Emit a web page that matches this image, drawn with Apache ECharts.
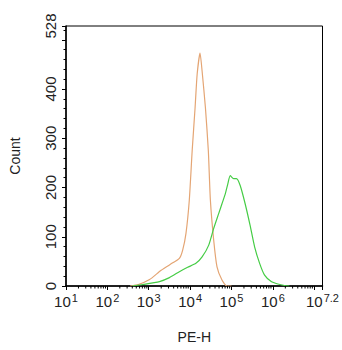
<!DOCTYPE html>
<html>
<head>
<meta charset="utf-8">
<script src="https://cdn.jsdelivr.net/npm/echarts@6/dist/echarts.min.js"></script>
<style>
    html, body { margin: 0; padding: 0; background: #fff; }
    #histogram { width: 342px; height: 350px; }
</style>
</head>
<body>
<div id="histogram"></div>
<script>

// Data (x in log10 of PE-H, y in counts)
// ------------------------------

var orangeLog = [2.55, 2.75, 3.02, 3.30, 3.58, 3.74, 3.82, 3.90, 3.98, 4.05, 4.12, 4.17, 4.24, 4.29, 4.37, 4.44, 4.49, 4.57, 4.65, 4.77, 4.89, 5.0];
var orangeCount = [0, 3, 13, 32, 47, 56, 73, 107, 174, 275, 362, 430, 473, 436, 362, 275, 174, 93, 39, 12, 0, 0];

var greenLog = [2.6, 2.86, 3.26, 3.50, 3.74, 3.94, 4.14, 4.29, 4.45, 4.57, 4.69, 4.77, 4.85, 4.91, 4.97, 5.05, 5.12, 5.21, 5.33, 5.45, 5.56, 5.68, 5.80, 5.96, 6.12, 6.28, 6.4];
var greenCount = [0, 3, 9, 17, 29, 38, 46, 59, 83, 117, 147, 167, 187, 207, 224, 218, 218, 204, 167, 123, 79, 46, 22, 9, 4, 1, 0];

var xDecades = [1, 2, 3, 4, 5, 6, 7];
var minorFactors = [2, 3, 4, 5, 6, 7, 8, 9];


document.addEventListener('DOMContentLoaded', function() {
    var el = document.getElementById('histogram');
    var chart = echarts.init(el, null, { renderer: 'svg' });

    var pair = function(xs, ys) {
        return xs.map(function(x, i) { return [x, ys[i]]; });
    };

    // log minor tick positions inside the axis range
    var minorTicks = [];
    xDecades.forEach(function(d) {
        minorFactors.forEach(function(f) {
            var v = d + Math.log10(f);
            if (v < 7.2) minorTicks.push([v, 0]);
        });
    });

    chart.setOption({
        animation: false,
        textStyle: {
            fontFamily: 'Liberation Sans, Arial, sans-serif',
            color: '#222'
        },

        grid: {
            left: 65,
            right: 17,
            top: 26,
            bottom: 64,
            show: true,
            borderColor: '#000',
            borderWidth: 1
        },

        xAxis: {
            type: 'value',
            min: 1,
            max: 7.2,
            interval: 1,
            name: 'PE-H',
            nameLocation: 'middle',
            nameGap: 44,
            nameTextStyle: { fontSize: 14, color: '#222' },
            axisLine: { lineStyle: { color: '#000', width: 1.5 } },
            axisTick: { length: 4, lineStyle: { color: '#000' } },
            splitLine: { show: false },
            axisLabel: {
                showMaxLabel: true,
                margin: 6,
                formatter: function(v) {
                    if (v === 7) return '';
                    return '{b|10}{s|' + v + '}';
                },
                rich: {
                    b: { fontSize: 15, color: '#222', lineHeight: 19 },
                    s: { fontSize: 11, color: '#222', verticalAlign: 'top', lineHeight: 19, padding: [0, 0, 8, 1] }
                }
            }
        },

        yAxis: {
            type: 'value',
            min: 0,
            max: 528,
            interval: 100,
            name: 'Count',
            nameLocation: 'middle',
            nameGap: 44,
            nameRotate: 90,
            nameTextStyle: { fontSize: 14, color: '#222' },
            axisLine: { show: true, lineStyle: { color: '#000', width: 1.5 } },
            axisTick: { show: true, length: 4, lineStyle: { color: '#000' } },
            minorTick: { show: true, splitNumber: 5, length: 2.5, lineStyle: { color: '#000' } },
            splitLine: { show: false },
            axisLabel: {
                showMaxLabel: true,
                rotate: 90,
                margin: 8,
                fontSize: 15,
                color: '#222',
                formatter: function(v) { return v === 500 ? '' : String(v); }
            }
        },

        series: [
            {
                name: 'Control',
                type: 'line',
                data: pair(orangeLog, orangeCount),
                showSymbol: false,
                smooth: 0.2,
                lineStyle: { color: '#e4a574', width: 1.2 },
                z: 3
            },
            {
                name: 'PE',
                type: 'line',
                data: pair(greenLog, greenCount),
                showSymbol: false,
                smooth: 0.2,
                lineStyle: { color: '#45cc45', width: 1.2 },
                z: 4
            },
            {
                // log minor ticks under the x axis
                type: 'custom',
                clip: false,
                silent: true,
                data: minorTicks,
                renderItem: function(params, api) {
                    var p = api.coord([api.value(0), 0]);
                    return {
                        type: 'line',
                        shape: { x1: p[0], y1: p[1], x2: p[0], y2: p[1] + 2.5 },
                        style: { stroke: '#000', lineWidth: 1 }
                    };
                },
                z: 5
            }
        ]
    });
});
</script>
</body>
</html>
